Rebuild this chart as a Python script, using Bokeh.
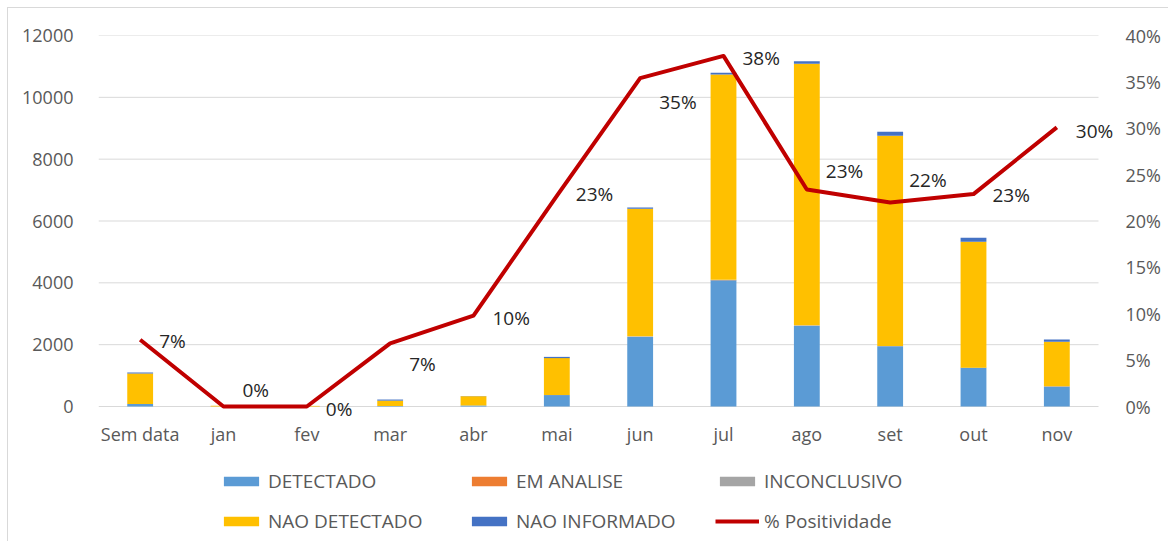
from bokeh.plotting import figure
from bokeh.models import (ColumnDataSource, Range1d, LinearAxis, FixedTicker,
                          NumeralTickFormatter, Legend, LegendItem)
from bokeh.core.properties import value
from bokeh.embed import file_html
from bokeh.resources import INLINE

# ---------------- data ----------------
categories = ["Sem data", "jan", "fev", "mar", "abr", "mai", "jun", "jul", "ago", "set", "out", "nov"]
detectado      = [80, 0, 0, 15, 33, 370, 2260, 4080, 2610, 1950, 1250, 650]
em_analise     = [0, 0, 0, 0, 0, 2, 5, 8, 6, 4, 3, 2]
inconclusivo   = [0, 0, 0, 0, 0, 3, 5, 10, 8, 6, 4, 2]
nao_detectado  = [990, 25, 20, 175, 300, 1190, 4130, 6640, 8460, 6800, 4070, 1440]
nao_informado  = [30, 0, 0, 35, 5, 40, 40, 60, 80, 130, 130, 70]
positividade   = [0.072, 0.0, 0.0, 0.068, 0.098, 0.227, 0.354, 0.378, 0.234, 0.220, 0.229, 0.301]
left_ticks  = [0, 2000, 4000, 6000, 8000, 10000, 12000]
right_ticks = [0, 0.05, 0.10, 0.15, 0.20, 0.25, 0.30, 0.35, 0.40]

series_names  = ["DETECTADO", "EM ANALISE", "INCONCLUSIVO", "NAO DETECTADO", "NAO INFORMADO"]
series_keys   = ["det", "ema", "inc", "nd", "ni"]
series_colors = ["#5B9BD5", "#ED7D31", "#A5A5A5", "#FFC000", "#4472C4"]

# label placement (style, screen px, + = down): vertical nudges of the data labels
label_dy = [1, -17, 2, 21, 2, -2, 24, 2, -18, -22, 1, 4]

FONT = "Open Sans"
TICK_COLOR = "#595959"
GRID = "#D9D9D9"

# ---------------- geometry (style) ----------------
PX_PER_CAT = 1000 / 12          # category slot width in px
PLOT_H = 371                    # px from 0 to 12000
EXTRA_BOTTOM = 135              # px below the 0 line kept inside the frame (axis labels + legend)
EXTRA_RIGHT = 17                # px right of the last slot (room for the last data label)
n = len(categories)
ymax = left_ticks[-1]
pmax = right_ticks[-1]
ymin = -EXTRA_BOTTOM / PLOT_H * ymax
pmin = -EXTRA_BOTTOM / PLOT_H * pmax
xmax = n + EXTRA_RIGHT / PX_PER_CAT

xs = [i + 0.5 for i in range(n)]
src = ColumnDataSource(dict(
    x=xs, cat=categories, det=detectado, ema=em_analise, inc=inconclusivo,
    nd=nao_detectado, ni=nao_informado, pos=positividade,
    lbl=[f"{round(v*100):.0f}%" for v in positividade],
    dy=label_dy, zero=[0] * n,
))
grid_src = ColumnDataSource(dict(y=left_ticks, x0=[0] * len(left_ticks), x1=[n] * len(left_ticks)))

p = figure(x_range=Range1d(0, xmax), y_range=Range1d(ymin, ymax),
           frame_width=1000 + EXTRA_RIGHT, frame_height=PLOT_H + EXTRA_BOTTOM,
           output_backend="svg", toolbar_location=None,
           min_border_left=90, min_border_right=53, min_border_top=27, min_border_bottom=0)
p.styles = {"margin-left": "7px", "margin-top": "7px",
            "border-left": f"1px solid {GRID}", "border-top": f"1px solid {GRID}"}
p.outline_line_color = None
p.background_fill_color = "white"
p.border_fill_color = "white"
p.xaxis.visible = False
p.xgrid.grid_line_color = None
p.ygrid.grid_line_color = None

p.extra_y_ranges = {"pct": Range1d(pmin, pmax)}

# horizontal gridlines over the category slots
p.segment(x0="x0", x1="x1", y0="y", y1="y", source=grid_src, line_color=GRID, line_width=1)

bars = p.vbar_stack(series_keys, x="x", width=0.31, source=src,
                    color=series_colors, line_color=None)
line = p.line(x="x", y="pos", source=src, y_range_name="pct",
              line_color="#C00000", line_width=4, line_join="round")
p.text(x="x", y="pos", text="lbl", source=src, y_range_name="pct",
       x_offset=19, y_offset="dy", text_align="left", text_baseline="middle",
       text_font=value(FONT), text_font_size="19px", text_color="#262626")

# category labels
p.text(x="x", y="zero", text="cat", source=src, y_offset=27,
       text_align="center", text_baseline="middle",
       text_font=value(FONT), text_font_size="18px", text_color=TICK_COLOR)

# axes
p.yaxis.ticker = FixedTicker(ticks=left_ticks)
p.yaxis.axis_line_color = None
p.yaxis.major_tick_line_color = None
p.yaxis.minor_tick_line_color = None
p.yaxis.major_label_standoff = 19
p.yaxis.major_label_text_font = FONT
p.yaxis.major_label_text_font_size = "18px"
p.yaxis.major_label_text_color = TICK_COLOR

ra = LinearAxis(y_range_name="pct", ticker=FixedTicker(ticks=right_ticks),
                formatter=NumeralTickFormatter(format="0%"))
ra.axis_line_color = None
ra.major_tick_line_color = None
ra.minor_tick_line_color = None
ra.major_label_standoff = 4
ra.major_label_text_font = FONT
ra.major_label_text_font_size = "18px"
ra.major_label_text_color = TICK_COLOR
p.add_layout(ra, "right")

# legend (column-major order so rows read as in the reference)
leg_renderers = dict(zip(series_names, bars))
leg_renderers["% Positividade"] = line
leg_order = ["DETECTADO", "NAO DETECTADO", "EM ANALISE", "NAO INFORMADO", "INCONCLUSIVO", "% Positividade"]
items = [LegendItem(label=nm, renderers=[leg_renderers[nm]]) for nm in leg_order]
legend = Legend(items=items, orientation="vertical", nrows=2,
                location=(121, 7), glyph_width=44, glyph_height=12,
                label_standoff=5, spacing=14, padding=5, margin=0,
                label_text_font=FONT, label_text_font_size="19px",
                label_text_color=TICK_COLOR, border_line_color=None,
                background_fill_alpha=0, label_height=26, label_width=185)
p.add_layout(legend, "center")

open("out.html", "w").write(file_html(p, INLINE))
